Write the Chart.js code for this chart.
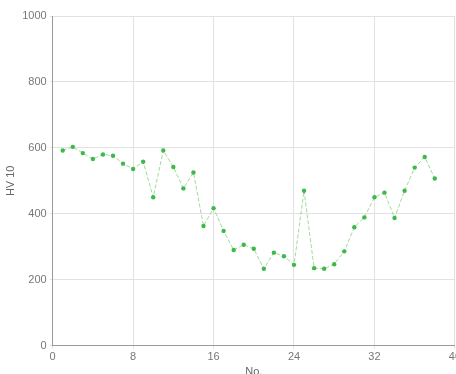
<!DOCTYPE html>
<html>
<head>
<meta charset="utf-8">
<script src="https://cdn.jsdelivr.net/npm/chart.js@4/dist/chart.umd.min.js"></script>
<style>
  html, body { margin: 0; padding: 0; background: #fff; overflow: hidden; }
  #wrap { position: relative; width: 463px; height: 379px; }
</style>
</head>
<body>
<div id="wrap"><canvas id="c"></canvas></div>
<script>
// Specimen numbers and their HV 10 hardness readings
const sampleNo = [1, 2, 3, 4, 5, 6, 7, 8, 9, 10, 11, 12, 13, 14, 15, 16, 17, 18, 19,
                  20, 21, 22, 23, 24, 25, 26, 27, 28, 29, 30, 31, 32, 33, 34, 35, 36, 37, 38];
const hardness = [592, 603, 584, 566, 580, 576, 552, 536, 558, 450, 592, 542, 477, 525, 363, 417, 348, 290, 306,
                  294, 233, 282, 271, 245, 470, 235, 233, 247, 286, 359, 389, 450, 464, 387, 470, 540, 572, 507];
const xTicks = [0, 8, 16, 24, 32, 40];
const yTicks = [0, 200, 400, 600, 800, 1000];

const points = sampleNo.map((n, i) => ({ x: n, y: hardness[i] }));
const font = { family: "'Liberation Sans', Arial, sans-serif", size: 11 };

new Chart(document.getElementById('c'), {
  type: 'line',
  data: {
    datasets: [{
      data: points,
      borderColor: 'rgba(130, 205, 120, 0.75)',
      borderWidth: 1,
      borderDash: [4, 2],
      pointBackgroundColor: '#3db84a',
      pointBorderColor: '#3db84a',
      pointRadius: 2.2,
      pointBorderWidth: 0,
      tension: 0,
      fill: false
    }]
  },
  options: {
    responsive: true,
    maintainAspectRatio: false,
    animation: false,
    layout: { padding: { top: 16, left: 4, right: 0, bottom: 0 } },
    plugins: { legend: { display: false }, tooltip: { enabled: false } },
    scales: {
      x: {
        type: 'linear',
        min: 0, max: 40,
        afterBuildTicks: a => { a.ticks = xTicks.map(v => ({ value: v })); },
        ticks: { color: '#777', font, padding: 2, maxRotation: 0, callback: v => String(v) },
        grid: { color: '#e2e2e2', tickLength: 3 },
        border: { color: '#999' },
        title: { display: true, text: 'No.', color: '#666', font, padding: { top: 0, bottom: 0 } }
      },
      y: {
        min: 0, max: 1000,
        afterBuildTicks: a => { a.ticks = yTicks.map(v => ({ value: v })); },
        ticks: { color: '#777', font, padding: 3, callback: v => String(v) },
        grid: { color: '#e2e2e2', tickLength: 3 },
        border: { color: '#999' },
        title: { display: true, text: 'HV 10', color: '#666', font, padding: { top: 0, bottom: 2 } }
      }
    }
  }
});
</script>
</body>
</html>
